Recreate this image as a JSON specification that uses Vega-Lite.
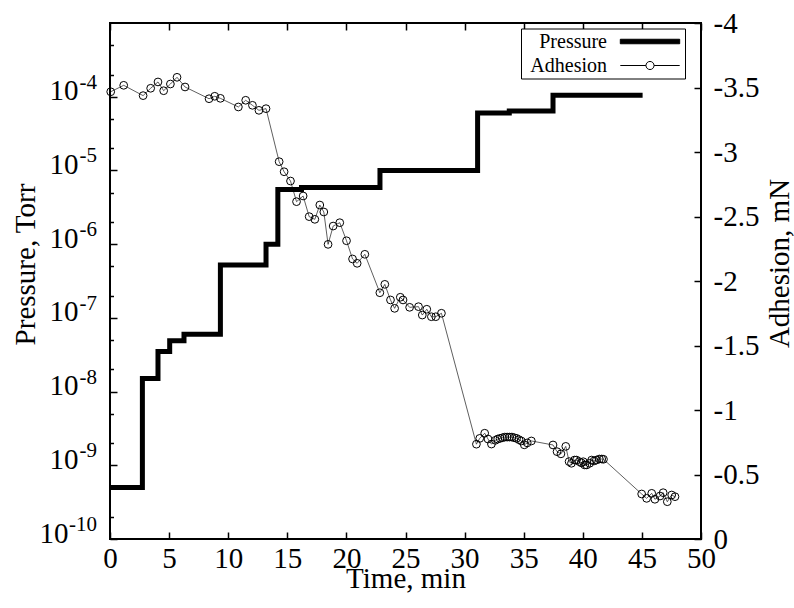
{
  "$schema": "https://vega.github.io/schema/vega-lite/v6.json",
  "width": 591,
  "height": 516,
  "autosize": {"type": "none"},
  "padding": {"left": 110, "top": 23, "right": 93, "bottom": 69},
  "background": "white",
  "config": {
    "view": {"stroke": "black", "strokeWidth": 2},
    "font": "Liberation Serif",
    "axis": {
      "labelFont": "Liberation Serif",
      "labelFontSize": 29,
      "labelColor": "black",
      "titleFont": "Liberation Serif",
      "titleFontSize": 29,
      "titleFontWeight": "normal",
      "titleColor": "black",
      "domain": false,
      "grid": false,
      "tickColor": "black",
      "tickWidth": 1.5
    }
  },
  "layer": [
    {
      "layer": [
        {
          "data": {"values": [
            {"time": 0, "pressure": 5e-10},
            {"time": 2.74, "pressure": 1.5e-8},
            {"time": 4.06, "pressure": 3.5e-8},
            {"time": 5.05, "pressure": 4.9e-8},
            {"time": 6.26, "pressure": 6e-8},
            {"time": 9.34, "pressure": 5.2e-7},
            {"time": 13.2, "pressure": 1e-6},
            {"time": 14.2, "pressure": 5.5e-6},
            {"time": 16.2, "pressure": 5.85e-6},
            {"time": 22.84, "pressure": 1e-5},
            {"time": 31.1, "pressure": 6e-5},
            {"time": 33.78, "pressure": 6.4e-5},
            {"time": 37.48, "pressure": 1.05e-4},
            {"time": 45.06, "pressure": 1.05e-4}
          ]},
          "mark": {"type": "line", "interpolate": "step-after", "strokeWidth": 5, "strokeCap": "butt", "strokeJoin": "miter"},
          "encoding": {
            "x": {
              "field": "time", "type": "quantitative",
              "scale": {"domain": [0, 50], "nice": false, "zero": false},
              "axis": {
                "orient": "bottom",
                "values": [0, 5, 10, 15, 20, 25, 30, 35, 40, 45, 50],
                "tickSize": -7,
                "labelPadding": 12,
                "labelFlush": false,
                "title": "Time, min",
                "titleX": 295.5,
                "titleY": 48,
                "titleBaseline": "alphabetic",
                "titleAlign": "center"
              }
            },
            "y": {
              "field": "pressure", "type": "quantitative",
              "scale": {"type": "log", "domain": [1e-10, 1e-3], "nice": false},
              "axis": {
                "orient": "left",
                "values": [1e-10, 2e-10, 5e-10, 1e-9, 2e-9, 5e-9, 1e-8, 2e-8, 5e-8, 1e-7, 2e-7, 5e-7, 1e-6, 2e-6, 5e-6, 1e-5, 2e-5, 5e-5, 1e-4, 2e-4, 5e-4],
                "tickSize": {"condition": {"test": "abs(log(datum.value)/LN10 - round(log(datum.value)/LN10)) < 0.01", "value": -7}, "value": -3.5},
                "labelExpr": "abs(log(datum.value)/LN10 - round(log(datum.value)/LN10)) < 0.01 && round(log(datum.value)/LN10) < -3 ? '10' : ''",
                "labelPadding": {"condition": {"test": "datum.value < 2e-10", "value": 49}, "value": 39},
                "labelBaseline": "alphabetic",
                "labelOffset": 3,
                "labelFlush": false,
                "labelOverlap": false,
                "title": "Pressure, Torr",
                "titleX": -76,
                "titleY": 241,
                "titleAngle": 270,
                "titleBaseline": "alphabetic",
                "titleAlign": "center"
              }
            },
            "color": {
              "datum": "Pressure",
              "scale": {"domain": ["Pressure", "Adhesion"], "range": ["black", "black"]},
              "legend": {
                "orient": "none",
                "legendX": 411,
                "legendY": 5.5,
                "title": null,
                "strokeColor": "black",
                "fillColor": "white",
                "padding": 3,
                "labelFont": "Liberation Serif",
                "labelFontSize": 20,
                "labelColor": "black",
                "labelAlign": "right",
                "labelOffset": -53,
                "rowPadding": 4,
                "symbolSize": 324,
                "symbolOffset": 116,
                "symbolStrokeWidth": 1,
                "symbolType": "M-3.3,0L3.3,0",
                "encode": {
                  "symbols": {
                    "update": {
                      "shape": {"signal": "datum.value === 'Pressure' ? 'M-3.3,-0.25L3.3,-0.25L3.3,0.25L-3.3,0.25Z' : 'M-3.3,0L-0.45,0M0.45,0L3.3,0M-0.45,0A0.45,0.45,0,1,1,0.45,0A0.45,0.45,0,1,1,-0.45,0'"},
                      "fill": {"signal": "datum.value === 'Pressure' ? 'black' : 'transparent'"},
                      "stroke": {"value": "black"},
                      "strokeWidth": {"value": 1},
                      "opacity": {"value": 1}
                    }
                  }
                }
              }
            }
          }
        },
        {
          "data": {"values": [
            {"pressure": 1e-10, "exponent": "-10"},
            {"pressure": 1e-9, "exponent": "-9"},
            {"pressure": 1e-8, "exponent": "-8"},
            {"pressure": 1e-7, "exponent": "-7"},
            {"pressure": 1e-6, "exponent": "-6"},
            {"pressure": 1e-5, "exponent": "-5"},
            {"pressure": 1e-4, "exponent": "-4"}
          ]},
          "mark": {"type": "text", "font": "Liberation Serif", "fontSize": 21, "align": "right", "baseline": "alphabetic", "dx": -13, "dy": -8, "color": "black"},
          "encoding": {
            "x": {"datum": 0, "type": "quantitative"},
            "y": {"field": "pressure", "type": "quantitative"},
            "text": {"field": "exponent"}
          }
        }
      ]
    },
    {
      "data": {"values": [
        {"time": 0.06, "adhesion": -3.467},
        {"time": 1.16, "adhesion": -3.517},
        {"time": 2.80, "adhesion": -3.437},
        {"time": 3.44, "adhesion": -3.494},
        {"time": 4.06, "adhesion": -3.543},
        {"time": 4.54, "adhesion": -3.475},
        {"time": 5.11, "adhesion": -3.527},
        {"time": 5.67, "adhesion": -3.579},
        {"time": 6.35, "adhesion": -3.504},
        {"time": 8.38, "adhesion": -3.413},
        {"time": 8.86, "adhesion": -3.432},
        {"time": 9.34, "adhesion": -3.416},
        {"time": 10.86, "adhesion": -3.349},
        {"time": 11.48, "adhesion": -3.401},
        {"time": 12.05, "adhesion": -3.362},
        {"time": 12.60, "adhesion": -3.323},
        {"time": 13.20, "adhesion": -3.336},
        {"time": 14.31, "adhesion": -2.925},
        {"time": 14.73, "adhesion": -2.847},
        {"time": 15.27, "adhesion": -2.775},
        {"time": 15.78, "adhesion": -2.615},
        {"time": 16.34, "adhesion": -2.659},
        {"time": 16.85, "adhesion": -2.499},
        {"time": 17.33, "adhesion": -2.478},
        {"time": 17.75, "adhesion": -2.589},
        {"time": 18.09, "adhesion": -2.535},
        {"time": 18.45, "adhesion": -2.284},
        {"time": 18.88, "adhesion": -2.426},
        {"time": 19.44, "adhesion": -2.452},
        {"time": 20.01, "adhesion": -2.312},
        {"time": 20.52, "adhesion": -2.171},
        {"time": 20.91, "adhesion": -2.137},
        {"time": 21.56, "adhesion": -2.207},
        {"time": 22.83, "adhesion": -1.909},
        {"time": 23.25, "adhesion": -1.974},
        {"time": 23.73, "adhesion": -1.853},
        {"time": 24.08, "adhesion": -1.788},
        {"time": 24.56, "adhesion": -1.874},
        {"time": 24.79, "adhesion": -1.853},
        {"time": 25.35, "adhesion": -1.796},
        {"time": 26.10, "adhesion": -1.801},
        {"time": 26.42, "adhesion": -1.736},
        {"time": 26.80, "adhesion": -1.781},
        {"time": 27.19, "adhesion": -1.723},
        {"time": 27.56, "adhesion": -1.723},
        {"time": 28.04, "adhesion": -1.750},
        {"time": 31.00, "adhesion": -0.735},
        {"time": 31.28, "adhesion": -0.780},
        {"time": 31.70, "adhesion": -0.820},
        {"time": 31.98, "adhesion": -0.775},
        {"time": 32.27, "adhesion": -0.736},
        {"time": 32.60, "adhesion": -0.765},
        {"time": 32.80, "adhesion": -0.775},
        {"time": 33.00, "adhesion": -0.780},
        {"time": 33.20, "adhesion": -0.785},
        {"time": 33.40, "adhesion": -0.790},
        {"time": 33.60, "adhesion": -0.790},
        {"time": 33.80, "adhesion": -0.790},
        {"time": 34.00, "adhesion": -0.790},
        {"time": 34.20, "adhesion": -0.785},
        {"time": 34.40, "adhesion": -0.780},
        {"time": 34.60, "adhesion": -0.770},
        {"time": 34.80, "adhesion": -0.760},
        {"time": 35.05, "adhesion": -0.730},
        {"time": 35.30, "adhesion": -0.745},
        {"time": 35.65, "adhesion": -0.760},
        {"time": 37.48, "adhesion": -0.729},
        {"time": 37.82, "adhesion": -0.677},
        {"time": 38.15, "adhesion": -0.660},
        {"time": 38.56, "adhesion": -0.718},
        {"time": 38.84, "adhesion": -0.600},
        {"time": 39.04, "adhesion": -0.587},
        {"time": 39.30, "adhesion": -0.612},
        {"time": 39.46, "adhesion": -0.612},
        {"time": 39.70, "adhesion": -0.600},
        {"time": 39.88, "adhesion": -0.590},
        {"time": 40.04, "adhesion": -0.599},
        {"time": 40.16, "adhesion": -0.574},
        {"time": 40.33, "adhesion": -0.574},
        {"time": 40.58, "adhesion": -0.587},
        {"time": 40.75, "adhesion": -0.612},
        {"time": 40.95, "adhesion": -0.605},
        {"time": 41.15, "adhesion": -0.612},
        {"time": 41.40, "adhesion": -0.620},
        {"time": 41.60, "adhesion": -0.620},
        {"time": 41.75, "adhesion": -0.618},
        {"time": 44.98, "adhesion": -0.349},
        {"time": 45.40, "adhesion": -0.315},
        {"time": 45.83, "adhesion": -0.354},
        {"time": 46.10, "adhesion": -0.308},
        {"time": 46.53, "adhesion": -0.333},
        {"time": 46.80, "adhesion": -0.359},
        {"time": 47.15, "adhesion": -0.289},
        {"time": 47.52, "adhesion": -0.341},
        {"time": 47.80, "adhesion": -0.328}
      ]},
      "mark": {
        "type": "line",
        "strokeWidth": 0.9,
        "strokeOpacity": 0.7,
        "point": {"filled": false, "fill": "transparent", "size": 60, "strokeWidth": 1, "strokeOpacity": 1}
      },
      "encoding": {
        "x": {
          "field": "time", "type": "quantitative",
          "scale": {"domain": [0, 50], "nice": false, "zero": false},
          "axis": {
            "orient": "top",
            "values": [0, 5, 10, 15, 20, 25, 30, 35, 40, 45, 50],
            "tickSize": -7,
            "labels": false,
            "title": null
          }
        },
        "y": {
          "field": "adhesion", "type": "quantitative",
          "scale": {"domain": [-4, 0], "reverse": true, "nice": false, "zero": false},
          "axis": {
            "orient": "right",
            "values": [-4, -3.5, -3, -2.5, -2, -1.5, -1, -0.5, 0],
            "tickSize": -7,
            "labelPadding": 19,
            "labelFlush": false,
            "labelOverlap": false,
            "labelExpr": "toString(datum.value)",
            "title": "Adhesion, mN",
            "titleX": 87,
            "titleY": 240,
            "titleAngle": 270,
            "titleBaseline": "alphabetic",
            "titleAlign": "center"
          }
        },
        "color": {"datum": "Adhesion"}
      }
    }
  ],
  "resolve": {"scale": {"x": "independent", "y": "independent"}}
}
